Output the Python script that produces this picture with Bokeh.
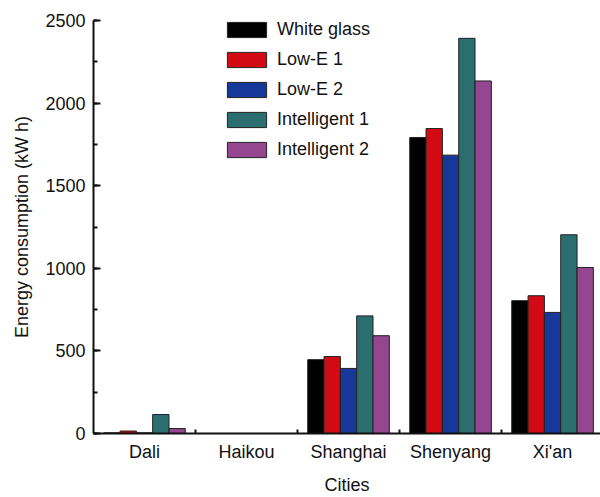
import numpy as np
from bokeh.plotting import figure
from bokeh.models import Range1d, FixedTicker, SingleIntervalTicker
from bokeh.embed import file_html
from bokeh.resources import INLINE

cities = ["Dali", "Haikou", "Shanghai", "Shenyang", "Xi'an"]
series_names = ["White glass", "Low-E 1", "Low-E 2", "Intelligent 1", "Intelligent 2"]
white_glass = [4, 0, 447, 1792, 804]
low_e_1 = [15, 0, 466, 1846, 834]
low_e_2 = [4, 0, 394, 1685, 733]
intelligent_1 = [115, 0, 712, 2392, 1203]
intelligent_2 = [30, 0, 592, 2134, 1005]
colors = ["#000000", "#d20a14", "#15389a", "#2b6e6f", "#944690"]

series = [white_glass, low_e_1, low_e_2, intelligent_1, intelligent_2]
FONT = "Liberation Sans"

p = figure(width=600, height=497, output_backend="svg", toolbar_location=None,
           x_range=Range1d(0, 4.97), y_range=Range1d(0, 2500),
           min_border_left=93, min_border_right=0, min_border_top=20, min_border_bottom=64)

centers = np.arange(len(cities)) + 0.5
bw = 0.16
for j, (name, vals, col) in enumerate(zip(series_names, series, colors)):
    p.vbar(x=centers + (j - 2) * bw, top=vals, bottom=0, width=bw,
           fill_color=col, line_color="#222222", line_width=1, legend_label=name)

p.outline_line_color = None
p.xgrid.grid_line_color = None
p.ygrid.grid_line_color = None
p.background_fill_color = "white"
p.border_fill_color = "white"

xa = p.xaxis[0]
xa.ticker = FixedTicker(ticks=list(centers), minor_ticks=[1, 2, 3, 4])
xa.major_label_overrides = {float(c): name for c, name in zip(centers, cities)}
xa.major_tick_in = 0
xa.major_tick_out = 0
xa.minor_tick_in = 4
xa.minor_tick_out = 0
xa.minor_tick_line_width = 2
xa.axis_line_width = 2
xa.axis_label = "Cities"
xa.major_label_standoff = 8
xa.axis_label_standoff = 10

ya = p.yaxis[0]
ya.ticker = SingleIntervalTicker(interval=500, num_minor_ticks=2)
ya.major_tick_in = 7
ya.major_tick_out = 0
ya.minor_tick_in = 4
ya.minor_tick_out = 0
ya.major_tick_line_width = 2
ya.minor_tick_line_width = 2
ya.axis_line_width = 2
ya.axis_label = "Energy consumption (kW h)"
ya.major_label_standoff = 8
ya.axis_label_standoff = 10

for ax in (xa, ya):
    ax.major_label_text_font = FONT
    ax.major_label_text_font_size = "18px"
    ax.major_label_text_color = "#111111"
    ax.axis_label_text_font = FONT
    ax.axis_label_text_font_size = "18px"
    ax.axis_label_text_font_style = "normal"
    ax.axis_label_text_color = "#111111"
    ax.axis_line_color = "#111111"
    ax.major_tick_line_color = "#111111"
    ax.minor_tick_line_color = "#111111"

lg = p.legend[0]
lg.location = (129, 273)
lg.padding = 0
lg.margin = 0
lg.spacing = 9
lg.glyph_width = 49
lg.glyph_height = 19
lg.label_height = 19
lg.label_standoff = 6
lg.label_text_font = FONT
lg.label_text_font_size = "18px"
lg.label_text_color = "#111111"
lg.border_line_color = None
lg.background_fill_alpha = 0

open("out.html", "w").write(file_html(p, INLINE))
